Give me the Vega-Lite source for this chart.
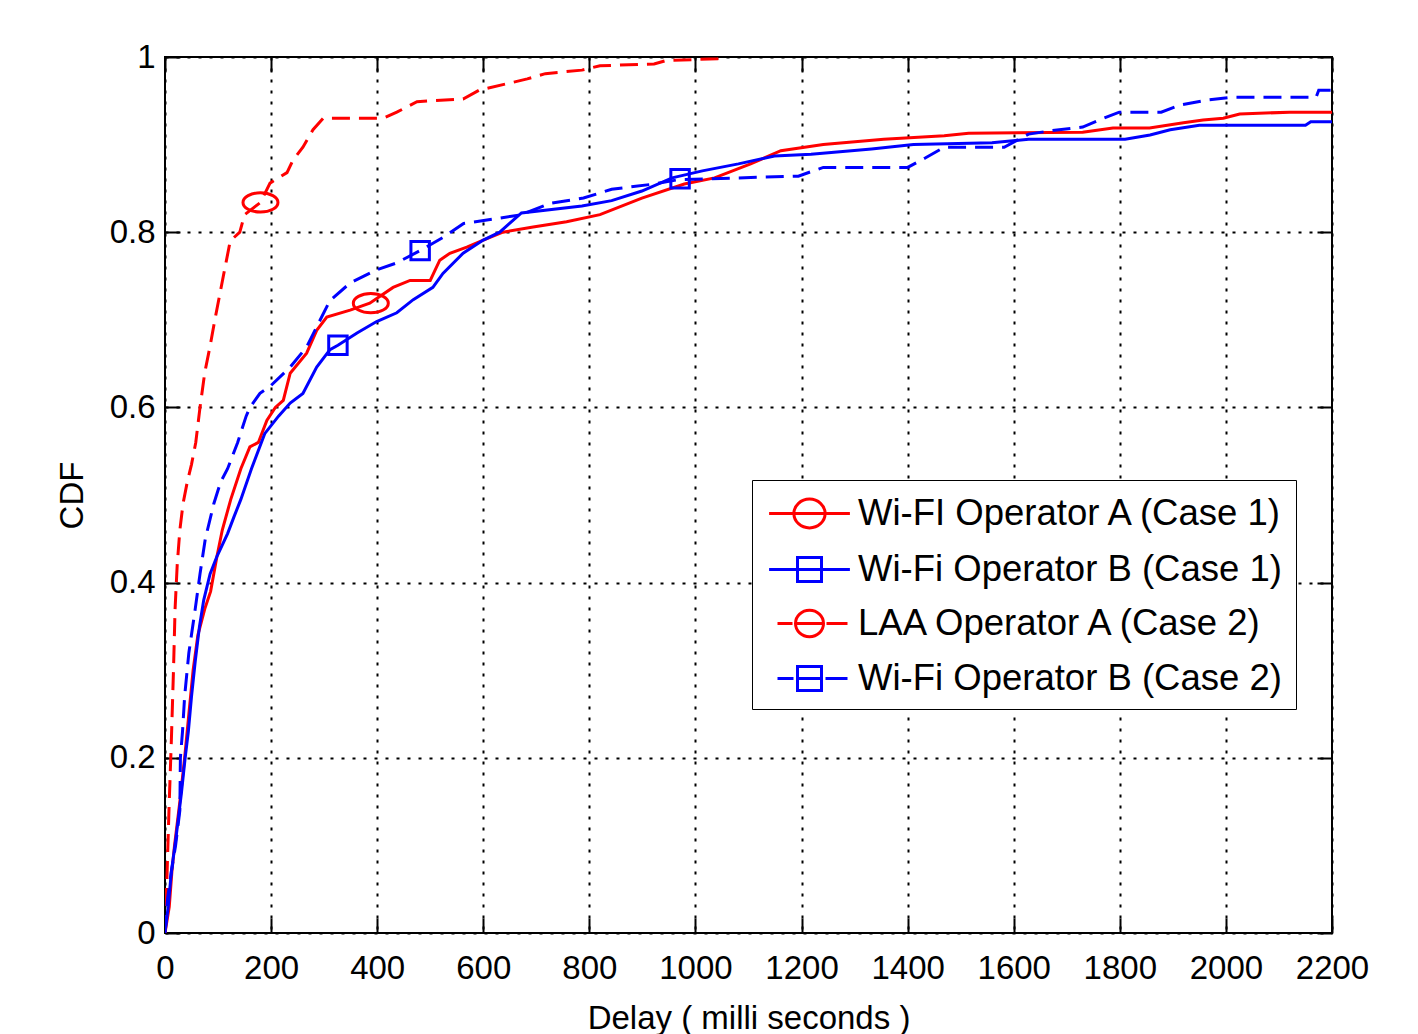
{
  "$schema": "https://vega.github.io/schema/vega-lite/v6.json",
  "width": 1167,
  "height": 876,
  "autosize": {"type": "none"},
  "padding": {"left": 165, "top": 57, "right": 86, "bottom": 101},
  "background": "white",
  "config": {
    "font": "Liberation Sans",
    "view": {"stroke": "black", "strokeWidth": 2},
    "axis": {
      "labelFont": "Liberation Sans",
      "titleFont": "Liberation Sans",
      "labelFontSize": 33,
      "titleFontSize": 33,
      "labelColor": "black",
      "titleColor": "black",
      "titleFontWeight": "normal",
      "labelOverlap": false,
      "labelFlush": false,
      "tickColor": "black",
      "tickWidth": 2,
      "tickSize": -15,
      "domain": false,
      "grid": true,
      "gridColor": "black",
      "gridDash": [3, 8],
      "gridWidth": 2,
      "gridOpacity": 1
    },
    "legend": {
      "orient": "none",
      "legendX": 587,
      "legendY": 423,
      "strokeColor": "black",
      "fillColor": "white",
      "padding": 12,
      "labelFont": "Liberation Sans",
      "labelFontSize": 36.5,
      "labelColor": "black",
      "labelLimit": 700,
      "labelOffset": 27,
      "symbolOffset": 24,
      "symbolSize": 1600,
      "symbolStrokeWidth": 3,
      "rowPadding": 14
    }
  },
  "datasets": {
    "curves": [
      {"series": "Wi-FI Operator A (Case 1)", "delay": 0, "cdf": 0},
      {"series": "Wi-FI Operator A (Case 1)", "delay": 8, "cdf": 0.03},
      {"series": "Wi-FI Operator A (Case 1)", "delay": 13, "cdf": 0.07},
      {"series": "Wi-FI Operator A (Case 1)", "delay": 18, "cdf": 0.10},
      {"series": "Wi-FI Operator A (Case 1)", "delay": 28, "cdf": 0.15},
      {"series": "Wi-FI Operator A (Case 1)", "delay": 37, "cdf": 0.20},
      {"series": "Wi-FI Operator A (Case 1)", "delay": 45, "cdf": 0.25},
      {"series": "Wi-FI Operator A (Case 1)", "delay": 53, "cdf": 0.30},
      {"series": "Wi-FI Operator A (Case 1)", "delay": 62, "cdf": 0.34},
      {"series": "Wi-FI Operator A (Case 1)", "delay": 75, "cdf": 0.37},
      {"series": "Wi-FI Operator A (Case 1)", "delay": 86, "cdf": 0.39},
      {"series": "Wi-FI Operator A (Case 1)", "delay": 98, "cdf": 0.43},
      {"series": "Wi-FI Operator A (Case 1)", "delay": 108, "cdf": 0.46},
      {"series": "Wi-FI Operator A (Case 1)", "delay": 124, "cdf": 0.495},
      {"series": "Wi-FI Operator A (Case 1)", "delay": 143, "cdf": 0.53},
      {"series": "Wi-FI Operator A (Case 1)", "delay": 160, "cdf": 0.555},
      {"series": "Wi-FI Operator A (Case 1)", "delay": 176, "cdf": 0.56},
      {"series": "Wi-FI Operator A (Case 1)", "delay": 192, "cdf": 0.585},
      {"series": "Wi-FI Operator A (Case 1)", "delay": 208, "cdf": 0.60},
      {"series": "Wi-FI Operator A (Case 1)", "delay": 223, "cdf": 0.608},
      {"series": "Wi-FI Operator A (Case 1)", "delay": 236, "cdf": 0.639},
      {"series": "Wi-FI Operator A (Case 1)", "delay": 267, "cdf": 0.662},
      {"series": "Wi-FI Operator A (Case 1)", "delay": 286, "cdf": 0.688},
      {"series": "Wi-FI Operator A (Case 1)", "delay": 305, "cdf": 0.703},
      {"series": "Wi-FI Operator A (Case 1)", "delay": 349, "cdf": 0.711},
      {"series": "Wi-FI Operator A (Case 1)", "delay": 386, "cdf": 0.719},
      {"series": "Wi-FI Operator A (Case 1)", "delay": 430, "cdf": 0.737},
      {"series": "Wi-FI Operator A (Case 1)", "delay": 462, "cdf": 0.745},
      {"series": "Wi-FI Operator A (Case 1)", "delay": 500, "cdf": 0.745},
      {"series": "Wi-FI Operator A (Case 1)", "delay": 518, "cdf": 0.768},
      {"series": "Wi-FI Operator A (Case 1)", "delay": 537, "cdf": 0.776},
      {"series": "Wi-FI Operator A (Case 1)", "delay": 569, "cdf": 0.783},
      {"series": "Wi-FI Operator A (Case 1)", "delay": 600, "cdf": 0.791},
      {"series": "Wi-FI Operator A (Case 1)", "delay": 637, "cdf": 0.80},
      {"series": "Wi-FI Operator A (Case 1)", "delay": 694, "cdf": 0.806},
      {"series": "Wi-FI Operator A (Case 1)", "delay": 757, "cdf": 0.812},
      {"series": "Wi-FI Operator A (Case 1)", "delay": 820, "cdf": 0.82},
      {"series": "Wi-FI Operator A (Case 1)", "delay": 899, "cdf": 0.839},
      {"series": "Wi-FI Operator A (Case 1)", "delay": 979, "cdf": 0.855},
      {"series": "Wi-FI Operator A (Case 1)", "delay": 1036, "cdf": 0.862},
      {"series": "Wi-FI Operator A (Case 1)", "delay": 1104, "cdf": 0.878},
      {"series": "Wi-FI Operator A (Case 1)", "delay": 1161, "cdf": 0.893},
      {"series": "Wi-FI Operator A (Case 1)", "delay": 1241, "cdf": 0.90},
      {"series": "Wi-FI Operator A (Case 1)", "delay": 1355, "cdf": 0.906},
      {"series": "Wi-FI Operator A (Case 1)", "delay": 1469, "cdf": 0.91},
      {"series": "Wi-FI Operator A (Case 1)", "delay": 1515, "cdf": 0.913},
      {"series": "Wi-FI Operator A (Case 1)", "delay": 1730, "cdf": 0.914},
      {"series": "Wi-FI Operator A (Case 1)", "delay": 1787, "cdf": 0.919},
      {"series": "Wi-FI Operator A (Case 1)", "delay": 1856, "cdf": 0.919},
      {"series": "Wi-FI Operator A (Case 1)", "delay": 1920, "cdf": 0.925},
      {"series": "Wi-FI Operator A (Case 1)", "delay": 1957, "cdf": 0.928},
      {"series": "Wi-FI Operator A (Case 1)", "delay": 1995, "cdf": 0.93},
      {"series": "Wi-FI Operator A (Case 1)", "delay": 2026, "cdf": 0.935},
      {"series": "Wi-FI Operator A (Case 1)", "delay": 2120, "cdf": 0.937},
      {"series": "Wi-FI Operator A (Case 1)", "delay": 2200, "cdf": 0.937},

      {"series": "Wi-Fi Operator B (Case 1)", "delay": 0, "cdf": 0},
      {"series": "Wi-Fi Operator B (Case 1)", "delay": 6, "cdf": 0.03},
      {"series": "Wi-Fi Operator B (Case 1)", "delay": 12, "cdf": 0.07},
      {"series": "Wi-Fi Operator B (Case 1)", "delay": 21, "cdf": 0.11},
      {"series": "Wi-Fi Operator B (Case 1)", "delay": 31, "cdf": 0.16},
      {"series": "Wi-Fi Operator B (Case 1)", "delay": 38, "cdf": 0.20},
      {"series": "Wi-Fi Operator B (Case 1)", "delay": 44, "cdf": 0.23},
      {"series": "Wi-Fi Operator B (Case 1)", "delay": 50, "cdf": 0.27},
      {"series": "Wi-Fi Operator B (Case 1)", "delay": 57, "cdf": 0.31},
      {"series": "Wi-Fi Operator B (Case 1)", "delay": 65, "cdf": 0.35},
      {"series": "Wi-Fi Operator B (Case 1)", "delay": 73, "cdf": 0.38},
      {"series": "Wi-Fi Operator B (Case 1)", "delay": 85, "cdf": 0.41},
      {"series": "Wi-Fi Operator B (Case 1)", "delay": 98, "cdf": 0.43},
      {"series": "Wi-Fi Operator B (Case 1)", "delay": 118, "cdf": 0.456},
      {"series": "Wi-Fi Operator B (Case 1)", "delay": 130, "cdf": 0.475},
      {"series": "Wi-Fi Operator B (Case 1)", "delay": 143, "cdf": 0.495},
      {"series": "Wi-Fi Operator B (Case 1)", "delay": 163, "cdf": 0.53},
      {"series": "Wi-Fi Operator B (Case 1)", "delay": 188, "cdf": 0.57},
      {"series": "Wi-Fi Operator B (Case 1)", "delay": 214, "cdf": 0.59},
      {"series": "Wi-Fi Operator B (Case 1)", "delay": 236, "cdf": 0.605},
      {"series": "Wi-Fi Operator B (Case 1)", "delay": 260, "cdf": 0.616},
      {"series": "Wi-Fi Operator B (Case 1)", "delay": 286, "cdf": 0.646},
      {"series": "Wi-Fi Operator B (Case 1)", "delay": 311, "cdf": 0.666},
      {"series": "Wi-Fi Operator B (Case 1)", "delay": 326, "cdf": 0.671},
      {"series": "Wi-Fi Operator B (Case 1)", "delay": 362, "cdf": 0.685},
      {"series": "Wi-Fi Operator B (Case 1)", "delay": 399, "cdf": 0.698},
      {"series": "Wi-Fi Operator B (Case 1)", "delay": 437, "cdf": 0.708},
      {"series": "Wi-Fi Operator B (Case 1)", "delay": 468, "cdf": 0.723},
      {"series": "Wi-Fi Operator B (Case 1)", "delay": 505, "cdf": 0.737},
      {"series": "Wi-Fi Operator B (Case 1)", "delay": 524, "cdf": 0.753},
      {"series": "Wi-Fi Operator B (Case 1)", "delay": 562, "cdf": 0.776},
      {"series": "Wi-Fi Operator B (Case 1)", "delay": 600, "cdf": 0.791},
      {"series": "Wi-Fi Operator B (Case 1)", "delay": 631, "cdf": 0.80},
      {"series": "Wi-Fi Operator B (Case 1)", "delay": 672, "cdf": 0.822},
      {"series": "Wi-Fi Operator B (Case 1)", "delay": 786, "cdf": 0.83},
      {"series": "Wi-Fi Operator B (Case 1)", "delay": 842, "cdf": 0.836},
      {"series": "Wi-Fi Operator B (Case 1)", "delay": 899, "cdf": 0.847},
      {"series": "Wi-Fi Operator B (Case 1)", "delay": 956, "cdf": 0.862},
      {"series": "Wi-Fi Operator B (Case 1)", "delay": 1013, "cdf": 0.87},
      {"series": "Wi-Fi Operator B (Case 1)", "delay": 1081, "cdf": 0.878},
      {"series": "Wi-Fi Operator B (Case 1)", "delay": 1149, "cdf": 0.887},
      {"series": "Wi-Fi Operator B (Case 1)", "delay": 1218, "cdf": 0.889},
      {"series": "Wi-Fi Operator B (Case 1)", "delay": 1332, "cdf": 0.895},
      {"series": "Wi-Fi Operator B (Case 1)", "delay": 1411, "cdf": 0.90},
      {"series": "Wi-Fi Operator B (Case 1)", "delay": 1559, "cdf": 0.902},
      {"series": "Wi-Fi Operator B (Case 1)", "delay": 1628, "cdf": 0.906},
      {"series": "Wi-Fi Operator B (Case 1)", "delay": 1810, "cdf": 0.906},
      {"series": "Wi-Fi Operator B (Case 1)", "delay": 1857, "cdf": 0.911},
      {"series": "Wi-Fi Operator B (Case 1)", "delay": 1895, "cdf": 0.917},
      {"series": "Wi-Fi Operator B (Case 1)", "delay": 1950, "cdf": 0.922},
      {"series": "Wi-Fi Operator B (Case 1)", "delay": 2150, "cdf": 0.922},
      {"series": "Wi-Fi Operator B (Case 1)", "delay": 2160, "cdf": 0.926},
      {"series": "Wi-Fi Operator B (Case 1)", "delay": 2200, "cdf": 0.926},

      {"series": "LAA Operator A (Case 2)", "delay": 0, "cdf": 0},
      {"series": "LAA Operator A (Case 2)", "delay": 3, "cdf": 0.05},
      {"series": "LAA Operator A (Case 2)", "delay": 5, "cdf": 0.09},
      {"series": "LAA Operator A (Case 2)", "delay": 8, "cdf": 0.15},
      {"series": "LAA Operator A (Case 2)", "delay": 12, "cdf": 0.22},
      {"series": "LAA Operator A (Case 2)", "delay": 16, "cdf": 0.30},
      {"series": "LAA Operator A (Case 2)", "delay": 19, "cdf": 0.37},
      {"series": "LAA Operator A (Case 2)", "delay": 23, "cdf": 0.42},
      {"series": "LAA Operator A (Case 2)", "delay": 28, "cdf": 0.46},
      {"series": "LAA Operator A (Case 2)", "delay": 34, "cdf": 0.49},
      {"series": "LAA Operator A (Case 2)", "delay": 42, "cdf": 0.515},
      {"series": "LAA Operator A (Case 2)", "delay": 50, "cdf": 0.535},
      {"series": "LAA Operator A (Case 2)", "delay": 58, "cdf": 0.56},
      {"series": "LAA Operator A (Case 2)", "delay": 66, "cdf": 0.60},
      {"series": "LAA Operator A (Case 2)", "delay": 75, "cdf": 0.64},
      {"series": "LAA Operator A (Case 2)", "delay": 85, "cdf": 0.67},
      {"series": "LAA Operator A (Case 2)", "delay": 94, "cdf": 0.70},
      {"series": "LAA Operator A (Case 2)", "delay": 110, "cdf": 0.75},
      {"series": "LAA Operator A (Case 2)", "delay": 123, "cdf": 0.79},
      {"series": "LAA Operator A (Case 2)", "delay": 141, "cdf": 0.80},
      {"series": "LAA Operator A (Case 2)", "delay": 150, "cdf": 0.82},
      {"series": "LAA Operator A (Case 2)", "delay": 180, "cdf": 0.834},
      {"series": "LAA Operator A (Case 2)", "delay": 198, "cdf": 0.856},
      {"series": "LAA Operator A (Case 2)", "delay": 230, "cdf": 0.868},
      {"series": "LAA Operator A (Case 2)", "delay": 241, "cdf": 0.882},
      {"series": "LAA Operator A (Case 2)", "delay": 260, "cdf": 0.897},
      {"series": "LAA Operator A (Case 2)", "delay": 279, "cdf": 0.917},
      {"series": "LAA Operator A (Case 2)", "delay": 298, "cdf": 0.93},
      {"series": "LAA Operator A (Case 2)", "delay": 411, "cdf": 0.93},
      {"series": "LAA Operator A (Case 2)", "delay": 437, "cdf": 0.937},
      {"series": "LAA Operator A (Case 2)", "delay": 475, "cdf": 0.949},
      {"series": "LAA Operator A (Case 2)", "delay": 562, "cdf": 0.952},
      {"series": "LAA Operator A (Case 2)", "delay": 592, "cdf": 0.962},
      {"series": "LAA Operator A (Case 2)", "delay": 683, "cdf": 0.975},
      {"series": "LAA Operator A (Case 2)", "delay": 717, "cdf": 0.981},
      {"series": "LAA Operator A (Case 2)", "delay": 786, "cdf": 0.985},
      {"series": "LAA Operator A (Case 2)", "delay": 820, "cdf": 0.99},
      {"series": "LAA Operator A (Case 2)", "delay": 922, "cdf": 0.992},
      {"series": "LAA Operator A (Case 2)", "delay": 945, "cdf": 0.996},
      {"series": "LAA Operator A (Case 2)", "delay": 1042, "cdf": 0.998},
      {"series": "LAA Operator A (Case 2)", "delay": 1060, "cdf": 1.0},

      {"series": "Wi-Fi Operator B (Case 2)", "delay": 0, "cdf": 0},
      {"series": "Wi-Fi Operator B (Case 2)", "delay": 5, "cdf": 0.04},
      {"series": "Wi-Fi Operator B (Case 2)", "delay": 12, "cdf": 0.07},
      {"series": "Wi-Fi Operator B (Case 2)", "delay": 20, "cdf": 0.10},
      {"series": "Wi-Fi Operator B (Case 2)", "delay": 28, "cdf": 0.14},
      {"series": "Wi-Fi Operator B (Case 2)", "delay": 29, "cdf": 0.20},
      {"series": "Wi-Fi Operator B (Case 2)", "delay": 33, "cdf": 0.23},
      {"series": "Wi-Fi Operator B (Case 2)", "delay": 37, "cdf": 0.27},
      {"series": "Wi-Fi Operator B (Case 2)", "delay": 45, "cdf": 0.32},
      {"series": "Wi-Fi Operator B (Case 2)", "delay": 57, "cdf": 0.37},
      {"series": "Wi-Fi Operator B (Case 2)", "delay": 66, "cdf": 0.41},
      {"series": "Wi-Fi Operator B (Case 2)", "delay": 76, "cdf": 0.45},
      {"series": "Wi-Fi Operator B (Case 2)", "delay": 92, "cdf": 0.49},
      {"series": "Wi-Fi Operator B (Case 2)", "delay": 105, "cdf": 0.515},
      {"series": "Wi-Fi Operator B (Case 2)", "delay": 118, "cdf": 0.53},
      {"series": "Wi-Fi Operator B (Case 2)", "delay": 137, "cdf": 0.56},
      {"series": "Wi-Fi Operator B (Case 2)", "delay": 153, "cdf": 0.59},
      {"series": "Wi-Fi Operator B (Case 2)", "delay": 160, "cdf": 0.60},
      {"series": "Wi-Fi Operator B (Case 2)", "delay": 179, "cdf": 0.616},
      {"series": "Wi-Fi Operator B (Case 2)", "delay": 198, "cdf": 0.624},
      {"series": "Wi-Fi Operator B (Case 2)", "delay": 236, "cdf": 0.646},
      {"series": "Wi-Fi Operator B (Case 2)", "delay": 267, "cdf": 0.669},
      {"series": "Wi-Fi Operator B (Case 2)", "delay": 286, "cdf": 0.692},
      {"series": "Wi-Fi Operator B (Case 2)", "delay": 311, "cdf": 0.722},
      {"series": "Wi-Fi Operator B (Case 2)", "delay": 349, "cdf": 0.742},
      {"series": "Wi-Fi Operator B (Case 2)", "delay": 399, "cdf": 0.757},
      {"series": "Wi-Fi Operator B (Case 2)", "delay": 437, "cdf": 0.765},
      {"series": "Wi-Fi Operator B (Case 2)", "delay": 481, "cdf": 0.779},
      {"series": "Wi-Fi Operator B (Case 2)", "delay": 524, "cdf": 0.794},
      {"series": "Wi-Fi Operator B (Case 2)", "delay": 563, "cdf": 0.81},
      {"series": "Wi-Fi Operator B (Case 2)", "delay": 631, "cdf": 0.816},
      {"series": "Wi-Fi Operator B (Case 2)", "delay": 672, "cdf": 0.82},
      {"series": "Wi-Fi Operator B (Case 2)", "delay": 726, "cdf": 0.833},
      {"series": "Wi-Fi Operator B (Case 2)", "delay": 789, "cdf": 0.839},
      {"series": "Wi-Fi Operator B (Case 2)", "delay": 842, "cdf": 0.849},
      {"series": "Wi-Fi Operator B (Case 2)", "delay": 922, "cdf": 0.855},
      {"series": "Wi-Fi Operator B (Case 2)", "delay": 968, "cdf": 0.86},
      {"series": "Wi-Fi Operator B (Case 2)", "delay": 1194, "cdf": 0.864},
      {"series": "Wi-Fi Operator B (Case 2)", "delay": 1241, "cdf": 0.874},
      {"series": "Wi-Fi Operator B (Case 2)", "delay": 1400, "cdf": 0.874},
      {"series": "Wi-Fi Operator B (Case 2)", "delay": 1434, "cdf": 0.885},
      {"series": "Wi-Fi Operator B (Case 2)", "delay": 1469, "cdf": 0.897},
      {"series": "Wi-Fi Operator B (Case 2)", "delay": 1582, "cdf": 0.897},
      {"series": "Wi-Fi Operator B (Case 2)", "delay": 1628, "cdf": 0.912},
      {"series": "Wi-Fi Operator B (Case 2)", "delay": 1673, "cdf": 0.916},
      {"series": "Wi-Fi Operator B (Case 2)", "delay": 1730, "cdf": 0.92},
      {"series": "Wi-Fi Operator B (Case 2)", "delay": 1765, "cdf": 0.929},
      {"series": "Wi-Fi Operator B (Case 2)", "delay": 1799, "cdf": 0.937},
      {"series": "Wi-Fi Operator B (Case 2)", "delay": 1878, "cdf": 0.937},
      {"series": "Wi-Fi Operator B (Case 2)", "delay": 1913, "cdf": 0.945},
      {"series": "Wi-Fi Operator B (Case 2)", "delay": 1967, "cdf": 0.951},
      {"series": "Wi-Fi Operator B (Case 2)", "delay": 2010, "cdf": 0.954},
      {"series": "Wi-Fi Operator B (Case 2)", "delay": 2170, "cdf": 0.954},
      {"series": "Wi-Fi Operator B (Case 2)", "delay": 2175, "cdf": 0.962},
      {"series": "Wi-Fi Operator B (Case 2)", "delay": 2200, "cdf": 0.962}
    ],
    "circles": [
      {"series": "Wi-FI Operator A (Case 1)", "delay": 388, "cdf": 0.719},
      {"series": "LAA Operator A (Case 2)", "delay": 180, "cdf": 0.834}
    ],
    "squares": [
      {"series": "Wi-Fi Operator B (Case 1)", "delay": 326, "cdf": 0.671},
      {"series": "Wi-Fi Operator B (Case 2)", "delay": 481, "cdf": 0.779},
      {"series": "Wi-Fi Operator B (Case 2)", "delay": 971, "cdf": 0.861}
    ],
    "keys": [
      {"series": "Wi-FI Operator A (Case 1)", "delay": 388, "cdf": 0.719},
      {"series": "Wi-Fi Operator B (Case 1)", "delay": 326, "cdf": 0.671},
      {"series": "LAA Operator A (Case 2)", "delay": 180, "cdf": 0.834},
      {"series": "Wi-Fi Operator B (Case 2)", "delay": 481, "cdf": 0.779}
    ]
  },
  "layer": [
    {
      "data": {"name": "keys"},
      "mark": {"type": "point", "filled": false, "opacity": 1, "strokeWidth": 3, "size": 0},
      "encoding": {
        "x": {
          "field": "delay", "type": "quantitative",
          "scale": {"domain": [0, 2200], "nice": false},
          "axis": {
            "orient": "bottom",
            "title": "Delay ( milli seconds )",
            "values": [0, 200, 400, 600, 800, 1000, 1200, 1400, 1600, 1800, 2000, 2200],
            "format": "d",
            "labelPadding": 34,
            "titlePadding": 17
          }
        },
        "y": {
          "field": "cdf", "type": "quantitative",
          "scale": {"domain": [0, 1], "nice": false},
          "axis": {
            "orient": "left",
            "title": "CDF",
            "values": [0, 0.2, 0.4, 0.6, 0.8, 1],
            "labelExpr": "'' + datum.value",
            "labelPadding": 25,
            "titlePadding": 20
          }
        },
        "color": {
          "field": "series", "type": "nominal",
          "scale": {
            "domain": ["Wi-FI Operator A (Case 1)", "Wi-Fi Operator B (Case 1)", "LAA Operator A (Case 2)", "Wi-Fi Operator B (Case 2)"],
            "range": ["#ff0000", "#0000ff", "#ff0000", "#0000ff"]
          },
          "legend": {"title": null}
        },
        "shape": {
          "field": "series", "type": "nominal",
          "scale": {
            "domain": ["Wi-FI Operator A (Case 1)", "Wi-Fi Operator B (Case 1)", "LAA Operator A (Case 2)", "Wi-Fi Operator B (Case 2)"],
            "range": [
              "M-2.02,0H2.02M-0.78,0A0.78,0.72,0,1,0,0.78,0A0.78,0.72,0,1,0,-0.78,0",
              "M-2.02,0H2.02M-0.6,-0.6H0.6V0.6H-0.6Z",
              "M-1.6,0H-0.85M0.85,0H1.9M-0.7,0H0.7M-0.7,0A0.7,0.66,0,1,0,0.7,0A0.7,0.66,0,1,0,-0.7,0",
              "M-1.6,0H-0.8M0.8,0H1.9M-0.6,0H0.6M-0.6,-0.6H0.6V0.6H-0.6Z"
            ]
          },
          "legend": {"title": null}
        }
      }
    },
    {
      "data": {"name": "curves"},
      "transform": [{"filter": {"field": "series", "oneOf": ["Wi-FI Operator A (Case 1)", "Wi-Fi Operator B (Case 1)"]}}],
      "mark": {"type": "line", "strokeWidth": 3, "clip": true},
      "encoding": {
        "x": {"field": "delay", "type": "quantitative", "axis": null},
        "y": {"field": "cdf", "type": "quantitative", "axis": null},
        "color": {"field": "series", "type": "nominal"}
      }
    },
    {
      "data": {"name": "curves"},
      "transform": [{"filter": {"field": "series", "oneOf": ["LAA Operator A (Case 2)", "Wi-Fi Operator B (Case 2)"]}}],
      "mark": {"type": "line", "strokeWidth": 3, "strokeDash": [18, 9], "clip": true},
      "encoding": {
        "x": {"field": "delay", "type": "quantitative", "axis": null},
        "y": {"field": "cdf", "type": "quantitative", "axis": null},
        "color": {"field": "series", "type": "nominal"}
      }
    },
    {
      "data": {"name": "circles"},
      "mark": {"type": "point", "shape": "M-1,0A1,0.55,0,1,0,1,0A1,0.55,0,1,0,-1,0", "filled": false, "opacity": 1, "strokeWidth": 3, "size": 1225},
      "encoding": {
        "x": {
          "field": "delay", "type": "quantitative",
          "axis": {
            "orient": "top", "title": null, "labels": false, "grid": false,
            "values": [0, 200, 400, 600, 800, 1000, 1200, 1400, 1600, 1800, 2000, 2200]
          }
        },
        "y": {
          "field": "cdf", "type": "quantitative",
          "axis": {
            "orient": "right", "title": null, "labels": false, "grid": false,
            "values": [0, 0.2, 0.4, 0.6, 0.8, 1]
          }
        },
        "color": {"field": "series", "type": "nominal"}
      }
    },
    {
      "data": {"name": "squares"},
      "mark": {"type": "point", "shape": "square", "filled": false, "opacity": 1, "strokeWidth": 3, "size": 340},
      "encoding": {
        "x": {"field": "delay", "type": "quantitative", "axis": null},
        "y": {"field": "cdf", "type": "quantitative", "axis": null},
        "color": {"field": "series", "type": "nominal"}
      }
    }
  ],
  "resolve": {"axis": {"x": "independent", "y": "independent"}}
}
